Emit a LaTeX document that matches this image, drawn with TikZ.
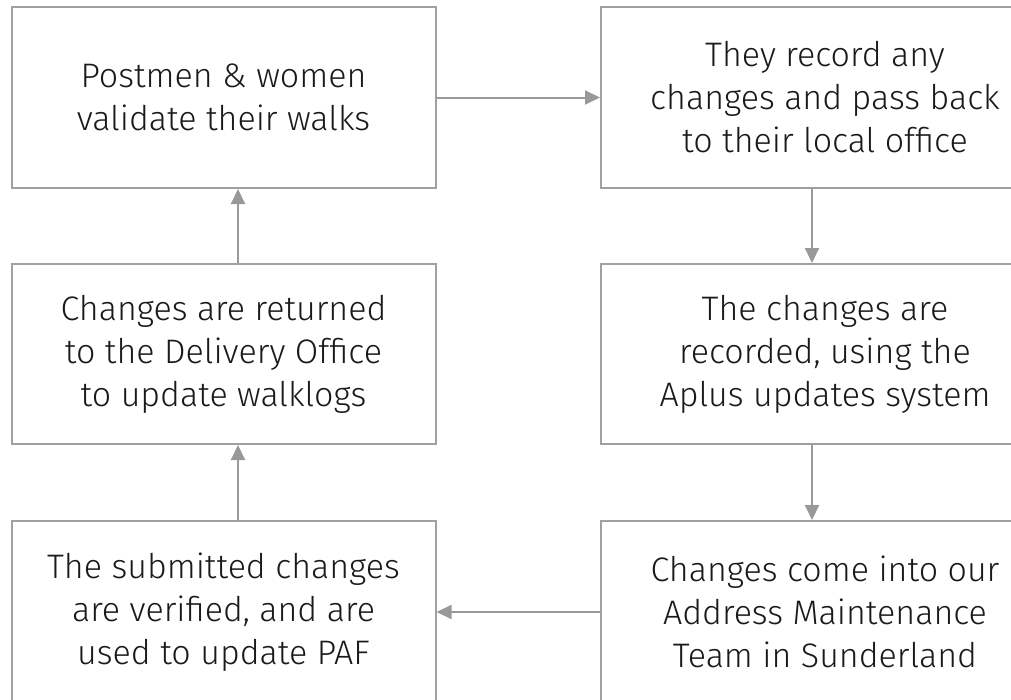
\documentclass[tikz,border=0pt]{standalone}
\usepackage{fontspec}
\setmainfont{Fira Sans}[UprightFont=* Light]
\usetikzlibrary{arrows.meta}
\definecolor{linegray}{HTML}{A0A0A0}
\definecolor{arrgray}{HTML}{999999}
\definecolor{txt}{HTML}{1A1A1A}
\begin{document}
\begin{tikzpicture}[x=1pt,y=-1pt,
  stepbox/.style={draw=linegray,line width=2pt,fill=none,text=txt,align=center,
    font=\fontsize{34}{43}\selectfont,inner sep=0pt},
  arr/.style={draw=arrgray,line width=2pt,-{Triangle[length=15pt,width=14pt]}}]
\useasboundingbox (0,0) rectangle (1011,699);
\begin{scope}
\clip (0,0) rectangle (1011,699);
\node[stepbox,minimum width=424pt,minimum height=181pt] (tl) at (223.5,97.5)
  {Postmen \& women\\validate their walks};
\node[stepbox,minimum width=448pt,minimum height=181pt] (tr) at (825,97.5)
  {They record any\\changes and pass back\\to their local office};
\node[stepbox,minimum width=424pt,minimum height=180pt] (ml) at (223.5,354)
  {Changes are returned\\to the Delivery Office\\to update walklogs};
\node[stepbox,minimum width=448pt,minimum height=180pt] (mr) at (825,354)
  {The changes are\\recorded, using the\\Aplus updates system};
\node[stepbox,minimum width=424pt,minimum height=182pt] (bl) at (223.5,612)
  {The submitted changes\\are verified, and are\\used to update PAF};
\node[stepbox,minimum width=448pt,minimum height=182pt] (br) at (825,612)
  {Changes come into our\\Address Maintenance\\Team in Sunderland};
\end{scope}
\coordinate (lx) at (238,0);
\coordinate (rx) at (812,0);
\draw[arr] (tl.east) -- (tr.west);
\draw[arr] (tr.south -| rx) -- (mr.north -| rx);
\draw[arr] (mr.south -| rx) -- (br.north -| rx);
\draw[arr] (br.west) -- (bl.east);
\draw[arr] (bl.north -| lx) -- (ml.south -| lx);
\draw[arr] (ml.north -| lx) -- (tl.south -| lx);
\end{tikzpicture}
\end{document}
